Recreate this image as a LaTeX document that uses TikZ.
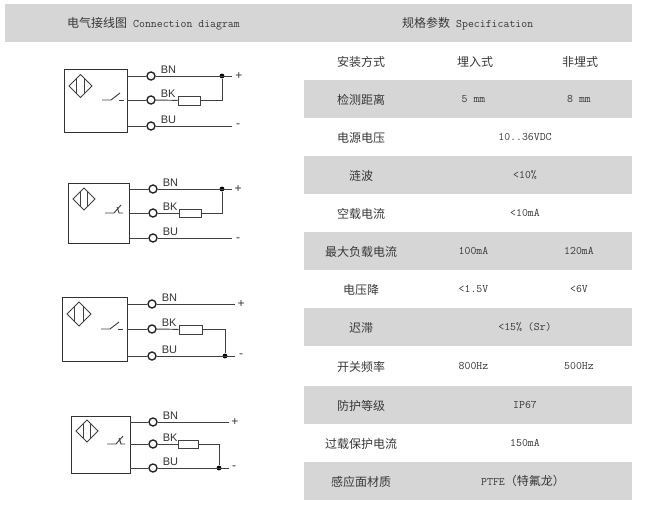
\documentclass[tikz,border=0pt]{standalone}
\usepackage{fontspec}
\setsansfont{Liberation Sans}
\newfontfamily\cjk{Noto Sans CJK SC}
\usetikzlibrary{positioning, calc}
\definecolor{rowgrey}{HTML}{D6D6D6}
\definecolor{inkgrey}{HTML}{383838}
\tikzset{
    wire/.style={line width=0.95pt, draw=black!75},
    cell/.style={text=inkgrey, inner sep=0pt, yshift=-0.8pt, font=\fontsize{12}{12}\cjk},
    val/.style={text=inkgrey, inner sep=0pt, font=\fontsize{11.5}{11.5}\ttfamily},
    terminal/.style={circle, draw=black!85, line width=1.4pt, fill=white, minimum size=8pt, inner sep=0pt},
    resistor/.style={rectangle, draw=black!75, line width=0.9pt, fill=white, inner sep=0pt},
    junction/.style={circle, fill=black, minimum size=4.8pt, inner sep=0pt},
    wirelabel/.style={text=black!80, inner sep=0pt, font=\fontsize{11}{11}\sffamily},
    polarity/.style={text=black!80, inner sep=0pt, font=\fontsize{12}{12}\sffamily},
}
% #1 id, #2 #3 #4 #5 box left/top/right/bottom, #6 #7 #8 wire rows, #9 circle x
\newcommand{\sensorbox}[9]{
    \node[draw=black!80, line width=1pt, inner sep=0pt, minimum width=#4pt-#2pt, minimum height=#5pt-#3pt, anchor=north west] (box#1) at (#2,#3) {};
    \coordinate (bnout#1) at (#4,#6);
    \coordinate (bkout#1) at (#4,#7);
    \coordinate (buout#1) at (#4,#8);
    \node[terminal] (bn#1) at (#9,#6) {};
    \node[terminal] (bk#1) at (#9,#7) {};
    \node[terminal] (bu#1) at (#9,#8) {};
    \node[wirelabel, above right=2pt and 5pt of bn#1.east] (bnlabel#1) {BN};
    \node[wirelabel, above right=2pt and 5pt of bk#1.east] (bklabel#1) {BK};
    \node[wirelabel, above right=2pt and 5pt of bu#1.east] (bulabel#1) {BU};
    \draw[wire] (bnout#1) -- (bn#1);
    \draw[wire] (bkout#1) -- (bk#1);
    \draw[wire] (buout#1) -- (bu#1);
}
% #1 id, #2 centre x, #3 centre y, #4 half width, #5 half height
\newcommand{\proxmark}[5]{
    \node[inner sep=0pt] (mark#1) at (#2,#3) {};
    \draw[wire] ($(mark#1)+(-#4,0)$) -- ($(mark#1)+(0,-#5)$) -- ($(mark#1)+(#4,0)$) -- ($(mark#1)+(0,#5)$) -- cycle;
    \draw[wire] ($(mark#1)+(-#4*0.36,-#5*0.64)$) -- ($(mark#1)+(-#4*0.36,#5*0.64)$);
    \draw[wire] ($(mark#1)+(#4*0.36,-#5*0.64)$) -- ($(mark#1)+(#4*0.36,#5*0.64)$);
}
% #1 id, #2 x of the contact start, #3 y
\newcommand{\makecontact}[3]{
    \coordinate (sw#1) at (#2,#3);
    \draw[wire] (sw#1) -- ++(9,0) -- ++(9,-7);
    \draw[wire] ($(sw#1)+(17,0)$) -- ($(sw#1)+(22,0)$);
}
\newcommand{\breakcontact}[3]{
    \coordinate (sw#1) at (#2,#3);
    \draw[wire] (sw#1) -- ++(9,0) -- ++(7,-8);
    \draw[wire] ($(sw#1)+(12,-6)$) -- ($(sw#1)+(14,0)$) -- ($(sw#1)+(18,0)$);
}

\begin{document}
\begin{tikzpicture}[x=1pt, y=-1pt]
    \useasboundingbox (0,0) rectangle (647,522);

    % header band
    \fill[rowgrey] (5,4) rectangle (632,42);
    \node[cell, anchor=west] (lefthead) at (67,23) {电气接线图\hspace{6pt}{\fontsize{11.5}{11.5}\ttfamily Connection diagram}};
    \node[cell, anchor=west] (righthead) at (402,23) {规格参数\hspace{6pt}{\fontsize{11.5}{11.5}\ttfamily Specification}};

    % table
    \foreach \top in {80,156,232,308,386,462}
        \fill[rowgrey] (304,\top) rectangle (632,\top+38);
    \foreach \y/\name in {61/安装方式,99/检测距离,137/电源电压,175/涟波,213/空载电流,251/最大负载电流,289/电压降,327/迟滞,366/开关频率,405/防护等级,443/过载保护电流,481/感应面材质}
        \node[cell] (param\y) at (361,\y) {\name};
    \node[cell] (embed) at (475,61) {埋入式};
    \node[cell] (nonembed) at (580,61) {非埋式};
    \foreach \y/\a/\b in {99/5 mm/8 mm,251/100mA/120mA,289/<1.5V/<6V,366/800Hz/500Hz}{
        \node[val] (first\y) at (473.5,\y) {\a};
        \node[val] (second\y) at (579,\y) {\b};
    }
    \foreach \y/\a in {137/10..36VDC,175/<10\%,213/<10mA,327/<15\% (Sr),405/IP67,443/150mA}
        \node[val] (span\y) at (525,\y) {\a};
    \node[val] (span481) at (523,481) {PTFE{\fontsize{12}{12}\cjk（特氟龙）}};

    % sensor 1
    \sensorbox{1}{64}{69}{127}{132}{76}{100}{126}{151}
    \proxmark{1}{80.5}{86}{11.5}{11.5}
    \makecontact{1}{102}{100}
    \node[resistor, minimum width=22pt, minimum height=9pt] (res1) at (189,100.5) {};
    \coordinate (endbn1) at (232,76);
    \coordinate (endbu1) at (232,126);
    \node[junction] (dot1) at (222,76) {};
    \node[polarity] (plus1) at (239,76) {+};
    \node[polarity] (minus1) at (238,126) {-};
    \draw[wire] (bn1) -- (endbn1);
    \draw[wire] (bu1) -- (endbu1);
    \draw[wire] (bk1) -- (res1);
    \draw[wire] (res1) -| (dot1);

    % sensor 2
    \sensorbox{2}{68}{183}{129}{243}{189}{213}{238}{153}
    \proxmark{2}{84}{199}{11}{11}
    \breakcontact{2}{105}{213}
    \node[resistor, minimum width=22pt, minimum height=8pt] (res2) at (190,213) {};
    \coordinate (endbn2) at (232,189);
    \coordinate (endbu2) at (232,238);
    \node[junction] (dot2) at (222,189) {};
    \node[polarity] (plus2) at (238,189) {+};
    \node[polarity] (minus2) at (238,240) {-};
    \draw[wire] (bn2) -- (endbn2);
    \draw[wire] (bu2) -- (endbu2);
    \draw[wire] (bk2) -- (res2);
    \draw[wire] (res2) -| (dot2);

    % sensor 3
    \sensorbox{3}{62}{297}{127}{361}{304}{329}{356}{152}
    \proxmark{3}{79}{314}{12}{12}
    \makecontact{3}{101}{329}
    \node[resistor, minimum width=23pt, minimum height=9pt] (res3) at (190.5,329.5) {};
    \coordinate (endbn3) at (235,304);
    \coordinate (endbu3) at (235,356);
    \node[junction] (dot3) at (225,356) {};
    \node[polarity] (plus3) at (241,304) {+};
    \node[polarity] (minus3) at (241,356) {-};
    \draw[wire] (bn3) -- (endbn3);
    \draw[wire] (bu3) -- (endbu3);
    \draw[wire] (bk3) -- (res3);
    \draw[wire] (res3) -| (dot3);

    % sensor 4
    \sensorbox{4}{71}{416}{130}{473}{422}{444}{468}{153}
    \proxmark{4}{87}{431}{11}{11}
    \breakcontact{4}{107}{444}
    \node[resistor, minimum width=20pt, minimum height=8pt] (res4) at (188,444) {};
    \coordinate (endbn4) at (229,422);
    \coordinate (endbu4) at (229,468);
    \node[junction] (dot4) at (219,468) {};
    \node[polarity] (plus4) at (235,422) {+};
    \node[polarity] (minus4) at (234,468) {-};
    \draw[wire] (bn4) -- (endbn4);
    \draw[wire] (bu4) -- (endbu4);
    \draw[wire] (bk4) -- (res4);
    \draw[wire] (res4) -| (dot4);
\end{tikzpicture}
\end{document}
